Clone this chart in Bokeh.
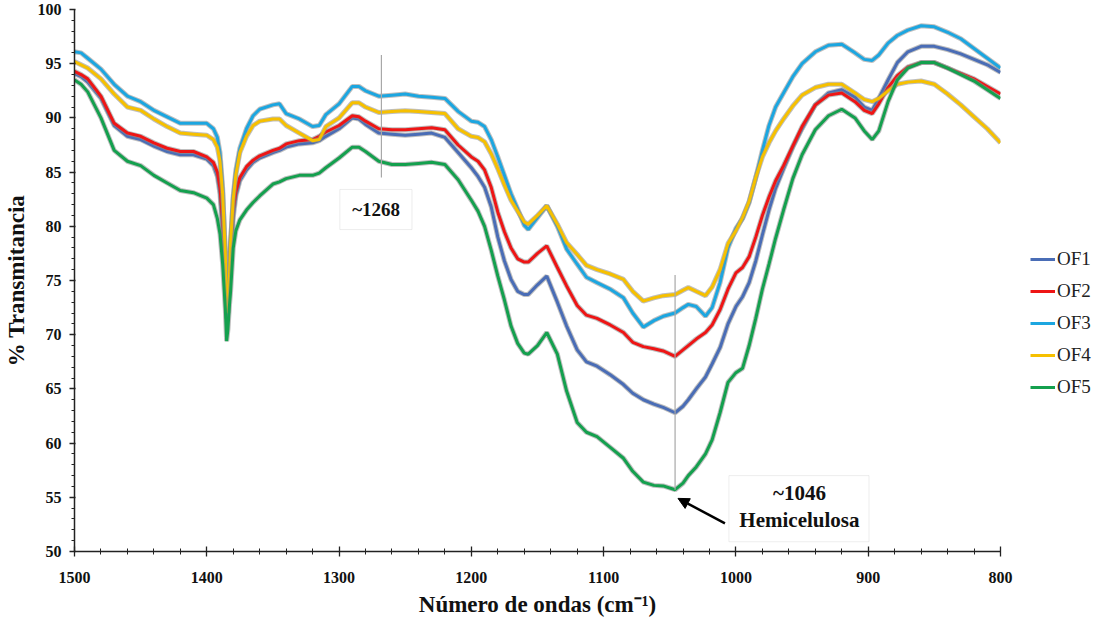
from bokeh.plotting import figure
from bokeh.models import (Range1d, FixedTicker, Legend, LegendItem, Label,
                          BoxAnnotation, Arrow, NormalHead)
from bokeh.embed import file_html
from bokeh.resources import INLINE

# ---------------- data ----------------
wavenumber = [1500, 1495, 1490, 1480, 1470, 1460, 1450, 1440, 1430, 1420, 1410, 1400,
              1395, 1392, 1390, 1388, 1386, 1385, 1384, 1383, 1382, 1380, 1378, 1375,
              1370, 1365, 1360, 1350, 1345, 1340, 1330, 1320, 1315, 1310, 1300, 1290,
              1285, 1280, 1270, 1260, 1250, 1240, 1230, 1220, 1210, 1200, 1195, 1190,
              1185, 1180, 1175, 1170, 1165, 1160, 1157, 1150, 1143, 1135, 1128, 1120,
              1113, 1105, 1095, 1085, 1078, 1070, 1062, 1055, 1046, 1040, 1036, 1030,
              1023, 1018, 1012, 1006, 1000, 995, 990, 985, 980, 975, 970, 964,
              957, 950, 940, 930, 920, 910, 903, 897, 892, 885, 878, 870,
              860, 850, 840, 830, 820, 810, 800]

of1 = [94.1, 93.8, 93.3, 91.8, 89.3, 88.3, 88.0, 87.4, 86.9, 86.6, 86.6, 86.2,
       85.6, 84.6, 83.0, 79.5, 74.5, 71.5, 72.0, 74.5, 77.0, 80.8, 82.8, 84.2,
       85.2, 85.9, 86.3, 86.8, 87.0, 87.3, 87.6, 87.7, 87.9, 88.3, 89.0, 90.0,
       89.9, 89.4, 88.6, 88.5, 88.4, 88.5, 88.6, 88.2, 86.8, 85.4, 84.6, 83.6,
       81.8, 79.0, 76.8, 75.1, 74.0, 73.7, 73.7, 74.6, 75.4, 73.0, 70.8, 68.6,
       67.5, 67.1, 66.3, 65.4, 64.6, 64.0, 63.6, 63.3, 62.8, 63.4, 64.0, 65.0,
       66.1, 67.3, 68.8, 71.0, 72.6, 73.5, 74.8, 76.8, 79.2, 81.5, 83.5, 85.3,
       87.3, 89.0, 91.2, 92.3, 92.6, 91.9, 91.0, 90.7, 91.8, 93.5, 95.1, 96.1,
       96.6, 96.6, 96.3, 95.9, 95.4, 94.9, 94.2]

of2 = [94.3, 94.0, 93.6, 92.0, 89.5, 88.6, 88.3, 87.7, 87.2, 86.9, 86.9, 86.4,
       85.9, 85.0, 83.5, 80.5, 75.5, 72.5, 73.0, 75.5, 78.0, 81.5, 83.2, 84.5,
       85.5, 86.1, 86.5, 87.0, 87.2, 87.6, 87.9, 88.0, 88.3, 88.7, 89.3, 90.2,
       90.1, 89.7, 89.0, 88.9, 88.9, 89.0, 89.1, 88.9, 87.5, 86.4, 86.0, 85.2,
       83.6, 81.3, 79.5, 78.0, 77.0, 76.7, 76.7, 77.5, 78.2, 76.2, 74.5, 72.7,
       71.8, 71.5, 70.9, 70.2, 69.3, 68.9, 68.7, 68.5, 68.0, 68.6, 69.0, 69.6,
       70.2, 70.9, 72.3, 74.2, 75.7, 76.2, 77.2, 79.0, 81.0, 82.7, 84.2, 85.6,
       87.4, 89.2, 91.2, 92.1, 92.3, 91.5, 90.7, 90.4, 91.3, 92.8, 93.9, 94.7,
       95.1, 95.1, 94.6, 94.1, 93.6, 92.9, 92.2]

of3 = [96.1, 96.0, 95.5, 94.5, 93.1, 92.0, 91.5, 90.7, 90.1, 89.5, 89.5, 89.5,
       89.0, 88.2, 86.8, 83.5, 77.5, 73.0, 72.5, 75.5, 78.5, 82.8, 85.2, 87.2,
       89.0, 90.2, 90.8, 91.2, 91.3, 90.4, 89.9, 89.2, 89.3, 90.3, 91.3, 92.9,
       92.9, 92.5, 92.0, 92.1, 92.2, 92.0, 91.9, 91.8, 90.6, 89.7, 89.6, 89.2,
       88.0, 86.4, 84.7, 83.0, 81.6, 80.1, 79.7, 80.8, 81.9, 80.0, 77.9, 76.5,
       75.3, 74.8, 74.2, 73.4, 72.0, 70.7, 71.3, 71.7, 72.0, 72.5, 72.8, 72.6,
       71.7, 72.5, 74.8, 78.0, 79.8, 80.7, 82.2, 84.5, 87.0, 89.3, 91.0, 92.3,
       93.8, 95.0, 96.1, 96.7, 96.8, 96.0, 95.4, 95.3, 95.8, 96.9, 97.6, 98.1,
       98.5, 98.4, 97.9, 97.3, 96.4, 95.5, 94.6]

of4 = [95.2, 94.9, 94.6, 93.6, 92.2, 91.0, 90.7, 89.9, 89.2, 88.6, 88.5, 88.4,
       88.0, 87.3, 86.0, 83.0, 77.5, 72.5, 72.0, 75.0, 78.5, 82.5, 84.8, 86.8,
       88.3, 89.3, 89.7, 89.9, 89.9, 89.3, 88.6, 87.9, 88.0, 89.2, 90.0, 91.4,
       91.4, 91.0, 90.5, 90.6, 90.65, 90.6, 90.5, 90.4, 89.0, 88.3, 88.2, 87.8,
       86.7, 85.3, 83.8, 82.4, 81.4, 80.4, 80.2, 81.0, 81.9, 80.2, 78.5, 77.4,
       76.4, 76.0, 75.6, 75.1, 74.0, 73.1, 73.4, 73.6, 73.7, 74.1, 74.35, 74.0,
       73.6, 74.4, 76.0, 78.4, 79.6, 80.8, 82.3, 84.5, 86.4, 87.7, 88.8, 89.9,
       91.1, 92.1, 92.8, 93.1, 93.1, 92.3, 91.7, 91.5, 91.8, 92.5, 93.1, 93.3,
       93.4, 93.1, 92.2, 91.2, 90.1, 89.0, 87.7]

of5 = [93.5, 93.1, 92.4, 90.0, 87.0, 86.0, 85.6, 84.7, 84.0, 83.3, 83.1, 82.6,
       82.0, 80.7, 79.3, 76.5, 72.4, 69.4, 70.5, 72.5, 74.0, 78.0, 79.6, 80.6,
       81.5, 82.2, 82.8, 83.9, 84.1, 84.4, 84.7, 84.7, 84.9, 85.4, 86.3, 87.3,
       87.3, 86.9, 86.0, 85.7, 85.7, 85.8, 85.9, 85.7, 84.3, 82.4, 81.4, 80.0,
       77.8, 75.4, 73.2, 70.8, 69.2, 68.3, 68.2, 69.0, 70.2, 68.2, 64.8, 61.9,
       61.0, 60.6, 59.6, 58.6, 57.4, 56.4, 56.1, 56.05, 55.7, 56.3, 57.0, 57.8,
       59.0, 60.3, 62.8, 65.6, 66.5, 66.9, 69.0, 71.5, 74.2, 76.5, 78.9, 81.5,
       84.4, 86.6, 88.9, 90.2, 90.8, 90.0, 88.8, 88.0, 88.8, 91.5, 93.5, 94.6,
       95.1, 95.1, 94.6, 94.0, 93.4, 92.6, 91.8]

series_names = ["OF1", "OF2", "OF3", "OF4", "OF5"]
series_values = [of1, of2, of3, of4, of5]
series_colors = ["#4A6DB6", "#EE1515", "#1CA6E0", "#F6C000", "#14A04E"]

x_ticks = [1500, 1400, 1300, 1200, 1100, 1000, 900, 800]
y_ticks = [50, 55, 60, 65, 70, 75, 80, 85, 90, 95, 100]

# annotations
peak_marks = [1268, 1046]
peak_line_low = [84.5, 55.7]
peak_line_high = [95.8, 75.5]

SERIF = "Liberation Serif"

p = figure(frame_width=926, frame_height=542, output_backend="svg", toolbar_location=None,
           x_range=Range1d(1500, 800), y_range=Range1d(50, 100),
           min_border_left=70, min_border_right=0, min_border_top=9,
           min_border_bottom=72)
p.outline_line_color = None
p.xgrid.visible = False
p.ygrid.visible = False
p.background_fill_color = "white"

renderers = []
for vals, col in zip(series_values, series_colors):
    p.line(wavenumber, vals, line_color="#8a8a8a", line_alpha=0.55, line_width=5)
    r = p.line(wavenumber, vals, line_color=col, line_width=3)
    renderers.append(r)

# peak guide lines
p.segment(x0=peak_marks, y0=peak_line_low, x1=peak_marks, y1=peak_line_high,
          line_color="#a8a8a8", line_width=1.2)

# annotation boxes
p.add_layout(BoxAnnotation(left=1299.4, right=1244.9, bottom=79.7, top=83.4,
                           fill_color="white", fill_alpha=1, line_color="#c4c4c4",
                           line_width=1))
p.add_layout(BoxAnnotation(left=1005.3, right=899.4, bottom=50.9, top=57.0,
                           fill_color="white", fill_alpha=1, line_color="#c4c4c4",
                           line_width=1))
p.add_layout(Label(x=1272, y=81.55, text="~1268", text_align="center",
                   text_baseline="middle", text_font=SERIF, text_font_style="bold",
                   text_font_size="19px", text_color="#111111"))
p.add_layout(Label(x=952, y=55.4, text="~1046", text_align="center",
                   text_baseline="middle", text_font=SERIF, text_font_style="bold",
                   text_font_size="21px", text_color="#111111"))
p.add_layout(Label(x=952, y=52.95, text="Hemicelulosa", text_align="center",
                   text_baseline="middle", text_font=SERIF, text_font_style="bold",
                   text_font_size="21px", text_color="#111111"))
p.add_layout(Arrow(end=NormalHead(size=11, fill_color="black", line_color="black"),
                   x_start=1008.3, y_start=52.6, x_end=1043.8, y_end=54.9,
                   line_width=2.5, line_color="black"))

# axes
p.xaxis.ticker = FixedTicker(ticks=x_ticks, minor_ticks=list(range(800, 1501, 20)))
p.yaxis.ticker = FixedTicker(ticks=y_ticks, minor_ticks=list(range(50, 101, 1)))
for ax in (p.xaxis, p.yaxis):
    ax.axis_line_color = "#222222"
    ax.axis_line_width = 1.5
    ax.major_tick_line_color = "#222222"
    ax.minor_tick_line_color = "#222222"
    ax.major_tick_line_width = 1.3
    ax.minor_tick_line_width = 1.0
    ax.major_label_text_font = SERIF
    ax.major_label_text_font_style = "bold"
    ax.major_label_text_font_size = "16px"
    ax.major_label_text_color = "#111111"
    ax.axis_label_text_font = SERIF
    ax.axis_label_text_font_style = "bold"
    ax.axis_label_text_font_size = "23px"
    ax.axis_label_text_color = "#111111"

p.xaxis.major_tick_in = 5
p.xaxis.major_tick_out = 5
p.xaxis.minor_tick_in = 3
p.xaxis.minor_tick_out = 3
p.xaxis.major_label_standoff = 15
p.xaxis.axis_label_standoff = 6
p.xaxis.axis_label = "Número de ondas (cm⁻¹)"

p.yaxis.major_tick_in = 1
p.yaxis.major_tick_out = 5
p.yaxis.minor_tick_in = 0
p.yaxis.minor_tick_out = 3
p.yaxis.major_label_standoff = 8
p.yaxis.axis_label_standoff = 6
p.yaxis.axis_label = "% Transmitancia"

legend = Legend(items=[LegendItem(label=n, renderers=[r]) for n, r in zip(series_names, renderers)],
                location=(30, 153), border_line_color=None, background_fill_alpha=0,
                label_text_font=SERIF, label_text_font_size="19px", label_text_color="#222222",
                glyph_width=25, glyph_height=22, label_height=22, spacing=10,
                padding=0, margin=0, label_standoff=2)
p.add_layout(legend, "right")

open("out.html", "w").write(file_html(p, INLINE))
